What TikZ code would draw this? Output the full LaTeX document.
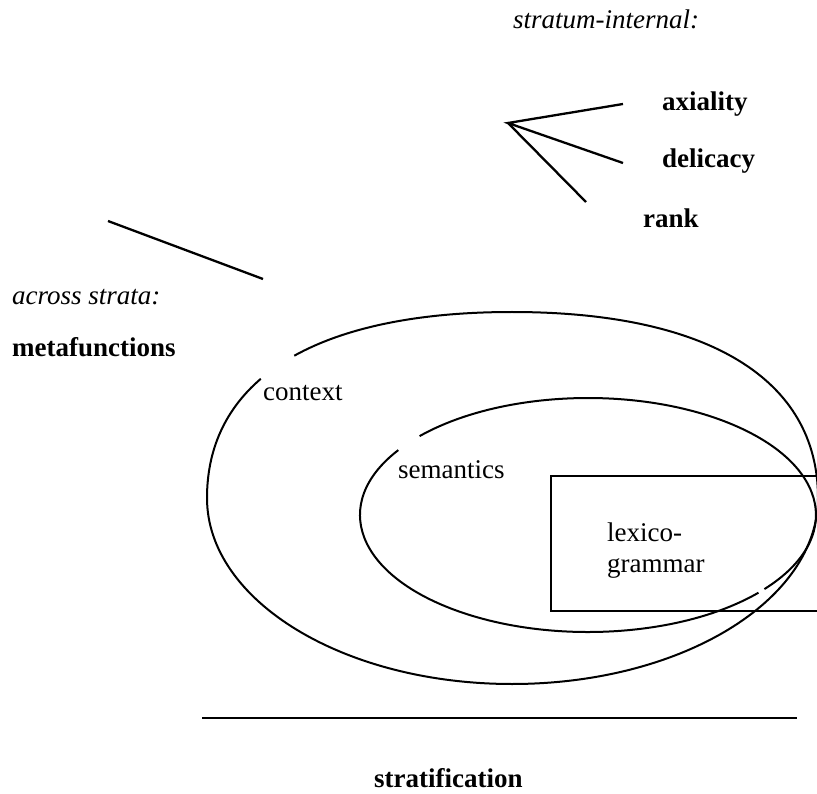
\documentclass[tikz,border=0pt]{standalone}
\usepackage{fontspec}
\setmainfont{Liberation Serif}
\begin{document}
\begin{tikzpicture}[x=1pt,y=-1pt,
  lbl/.style={anchor=base west, inner sep=0pt, font=\fontsize{27}{31}\selectfont},
  curve/.style={line width=2pt},
  rule/.style={line width=2.3pt}]
\useasboundingbox (0,0) rectangle (817,794);

% outer ellipse (context) with gap near its label
\draw[curve] (294.3,355.7) .. controls (345.9,327.1) and (419.4,312) .. (512,312)
  .. controls (707.8,312) and (818,379) .. (818,498)
  .. controls (818,600.7) and (681,684) .. (512,684)
  .. controls (343.6,684) and (207,600.7) .. (207,498)
  .. controls (207,449.2) and (225.5,409.1) .. (260.8,378.8);

% inner ellipse (semantics) with two gaps
\draw[curve] (764.4,589.1) arc[start angle=-39.3, end angle=137.6, x radius=228pt, y radius=117pt];
\draw[curve] (398.3,450.1) arc[start angle=146.3, end angle=318.4, x radius=228pt, y radius=117pt];

% lexico-grammar box (open to the right)
\draw[rule, line width=2.5pt] (817,476) -- (551,476) -- (551,611) -- (817,611);

% labels
\node[lbl] (si) at (513,29) {\itshape stratum-internal:};
\node[lbl] (ax) at (662,111) {\bfseries axiality};
\node[lbl] (de) at (662,168) {\bfseries delicacy};
\node[lbl] (rk) at (643,228) {\bfseries rank};
\node[lbl] (as) at (12,305) {\itshape across strata:};
\node[lbl] (mf) at (12,356) {\bfseries metafunctions};
\node[lbl] (ctx) at (263,400) {context};
\node[lbl] (sem) at (398,478) {semantics};
\node[lbl, anchor=north west, align=left] (lg) at (607,522.6) {lexico-\\grammar};
\node[lbl] (st) at (374,787) {\bfseries stratification};

% fan of stratum-internal dimensions
\coordinate (fan) at (508,123);
\coordinate (fa) at (623,104);
\coordinate (fd) at (623,163);
\coordinate (fr) at (586,202);
\draw[rule] (fa) -- (fan) -- (fd);
\draw[rule] (fan) -- (fr);

% across-strata line
\coordinate (al1) at (108,221);
\coordinate (al2) at (263,279);
\draw[rule] (al1) -- (al2);

% stratification line
\coordinate (sl1) at (202,718);
\coordinate (sl2) at (797,718);
\draw[rule, line width=2.6pt] (sl1) -- (sl2);
\end{tikzpicture}
\end{document}
